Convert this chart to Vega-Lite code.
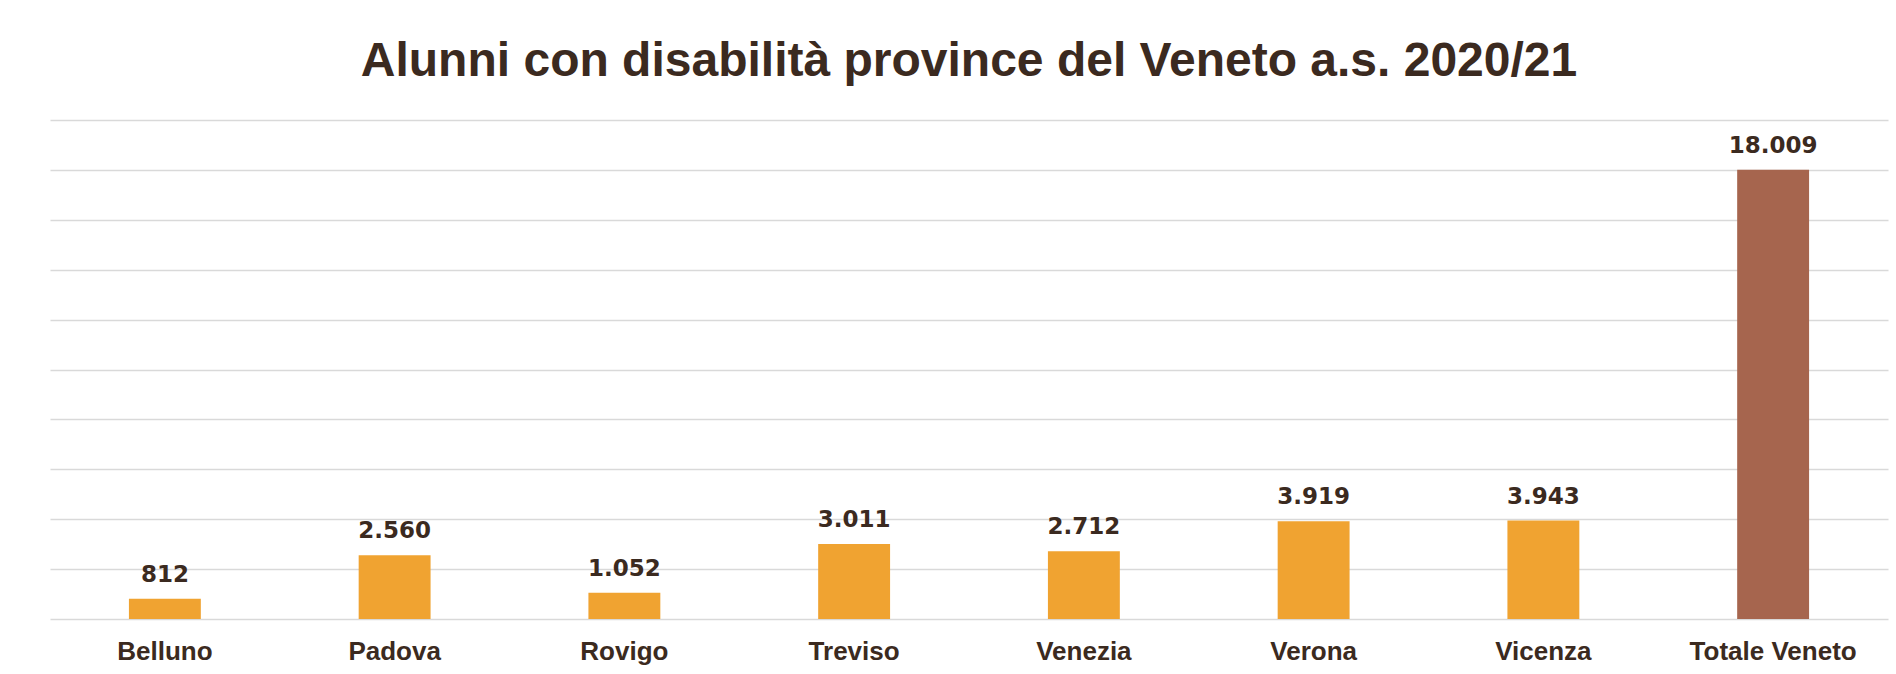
{
  "$schema": "https://vega.github.io/schema/vega-lite/v6.json",
  "autosize": "none",
  "width": 1838,
  "height": 499,
  "padding": {"left": 50, "top": 120, "right": 8, "bottom": 55},
  "background": "white",
  "config": {
    "view": {"stroke": null},
    "locale": {"number": {"decimal": ",", "thousands": ".", "grouping": [3], "currency": ["€", ""]}},
    "font": "Liberation Sans"
  },
  "title": {
    "text": "Alunni con disabilità province del Veneto a.s. 2020/21",
    "font": "Liberation Sans",
    "fontSize": 48,
    "fontWeight": "bold",
    "color": "#3b2a20",
    "anchor": "middle",
    "baseline": "alphabetic",
    "offset": -4
  },
  "data": {
    "values": [
      {"provincia": "Belluno", "alunni": 812},
      {"provincia": "Padova", "alunni": 2560},
      {"provincia": "Rovigo", "alunni": 1052},
      {"provincia": "Treviso", "alunni": 3011},
      {"provincia": "Venezia", "alunni": 2712},
      {"provincia": "Verona", "alunni": 3919},
      {"provincia": "Vicenza", "alunni": 3943},
      {"provincia": "Totale Veneto", "alunni": 18009}
    ]
  },
  "encoding": {
    "x": {
      "field": "provincia",
      "type": "nominal",
      "sort": null,
      "scale": {"paddingInner": 0.687, "paddingOuter": 0.3435},
      "axis": {
        "title": null,
        "domain": false,
        "ticks": false,
        "tickSize": 0,
        "labelAngle": 0,
        "labelFont": "Liberation Sans",
        "labelFontSize": 26,
        "labelFontWeight": "bold",
        "labelColor": "#3b2a20",
        "labelBaseline": "alphabetic",
        "labelPadding": 40
      }
    },
    "y": {
      "field": "alunni",
      "type": "quantitative",
      "scale": {"domain": [0, 20000], "nice": false},
      "axis": {
        "title": null,
        "labels": false,
        "ticks": false,
        "domain": false,
        "values": [0, 2000, 4000, 6000, 8000, 10000, 12000, 14000, 16000, 18000, 20000],
        "gridColor": "#d9d9d9",
        "gridWidth": 1.5
      }
    }
  },
  "layer": [
    {
      "mark": {"type": "bar"},
      "encoding": {
        "color": {
          "condition": {"test": "datum.provincia === 'Totale Veneto'", "value": "#A6654E"},
          "value": "#F0A331"
        }
      }
    },
    {
      "mark": {
        "type": "text",
        "font": "DejaVu Sans",
        "fontSize": 23,
        "fontWeight": "bold",
        "baseline": "alphabetic",
        "align": "center",
        "dy": -17,
        "color": "#3b2a20"
      },
      "encoding": {
        "text": {"field": "alunni", "type": "quantitative", "format": ","}
      }
    }
  ]
}
